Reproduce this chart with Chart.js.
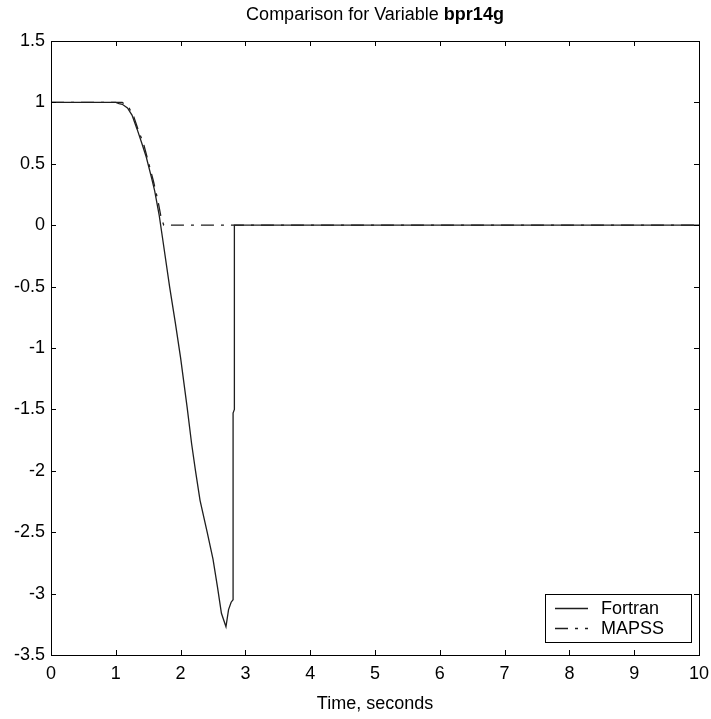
<!DOCTYPE html>
<html>
<head>
<meta charset="utf-8">
<title>Comparison for Variable bpr14g</title>
<script src="https://cdn.jsdelivr.net/npm/chart.js@4.4.1/dist/chart.umd.min.js"></script>
<style>
  html, body { margin: 0; padding: 0; background: #fff; }
  #wrap { width: 711px; height: 719px; }
</style>
</head>
<body>
<div id="wrap"><canvas id="chart" width="711" height="719"></canvas></div>
<script>
// values
const fortranT = [0, 0.5, 1.0, 1.05, 1.1, 1.18, 1.25, 1.33, 1.4, 1.47, 1.55, 1.6, 1.67, 1.72, 1.83, 1.92, 2.0, 2.1, 2.17, 2.23, 2.3, 2.41, 2.5, 2.57, 2.63, 2.7, 2.74, 2.78, 2.81, 2.81, 2.83, 2.83, 10];
const fortranY = [1, 1, 1, 0.99, 0.985, 0.955, 0.897, 0.78, 0.67, 0.555, 0.39, 0.28, 0.08, -0.1, -0.5, -0.8, -1.08, -1.48, -1.78, -2.0, -2.24, -2.5, -2.72, -2.95, -3.16, -3.27, -3.13, -3.07, -3.05, -1.53, -1.5, 0, 0];

const mapssT = [0, 1.1, 1.2, 1.28, 1.35, 1.43, 1.5, 1.58, 1.65, 1.7, 1.74, 10];
const mapssY = [1, 1, 0.96, 0.88, 0.77, 0.66, 0.52, 0.36, 0.2, 0.06, 0, 0];

const seriesNames = ['Fortran', 'MAPSS'];
const xTitle = 'Time, seconds';
const titleText = 'Comparison for Variable ';
const titleBold = 'bpr14g';

const FONT = "'Liberation Sans', Arial, Helvetica, sans-serif";
const INK = '#000';
const LINE = '#1e1e1e';
const DASHDOT = [13, 7, 3, 7];

function pts(xs, ys) {
    return xs.map((x, i) => ({ x: x, y: ys[i] }));
}

// frame, inward ticks, title, axis title and legend (MATLAB style)
const matlabLook = {
    id: 'matlabLook',
    afterDraw(chart) {
        const ctx = chart.ctx;
        const a = chart.chartArea;
        const xs = chart.scales.x;
        const ys = chart.scales.y;
        const tick = 5;

        ctx.save();
        ctx.strokeStyle = INK;
        ctx.lineWidth = 1;
        ctx.strokeRect(a.left + 0.5, a.top + 0.5, a.right - a.left, a.bottom - a.top);

        ctx.beginPath();
        xs.ticks.forEach(t => {
            const px = Math.round(xs.getPixelForValue(t.value)) + 0.5;
            ctx.moveTo(px, a.bottom); ctx.lineTo(px, a.bottom - tick);
            ctx.moveTo(px, a.top); ctx.lineTo(px, a.top + tick);
        });
        ys.ticks.forEach(t => {
            const py = Math.round(ys.getPixelForValue(t.value)) + 0.5;
            ctx.moveTo(a.left, py); ctx.lineTo(a.left + tick, py);
            ctx.moveTo(a.right, py); ctx.lineTo(a.right - tick, py);
        });
        ctx.stroke();

        // title, with the variable name in bold
        const cx = (a.left + a.right) / 2;
        ctx.fillStyle = INK;
        ctx.textBaseline = 'middle';
        ctx.font = '18px ' + FONT;
        const w1 = ctx.measureText(titleText).width;
        ctx.font = 'bold 18px ' + FONT;
        const w2 = ctx.measureText(titleBold).width;
        let tx = cx - (w1 + w2) / 2;
        ctx.textAlign = 'left';
        ctx.font = '18px ' + FONT;
        ctx.fillText(titleText, tx, 15);
        ctx.font = 'bold 18px ' + FONT;
        ctx.fillText(titleBold, tx + w1, 15);

        // x axis title
        ctx.font = '18px ' + FONT;
        ctx.textAlign = 'center';
        ctx.fillText(xTitle, cx, 704);

        // legend box in the lower right corner
        const bx = 545, by = 594, bw = 146, bh = 48;
        ctx.fillStyle = '#fff';
        ctx.fillRect(bx, by, bw, bh);
        ctx.strokeStyle = INK;
        ctx.strokeRect(bx + 0.5, by + 0.5, bw, bh);
        chart.data.datasets.forEach((ds, i) => {
            const ly = by + 14 + i * 20;
            ctx.strokeStyle = ds.borderColor;
            ctx.lineWidth = ds.borderWidth;
            ctx.setLineDash(ds.borderDash || []);
            ctx.beginPath();
            ctx.moveTo(bx + 10, ly + 0.5);
            ctx.lineTo(bx + 43, ly + 0.5);
            ctx.stroke();
            ctx.setLineDash([]);
            ctx.fillStyle = INK;
            ctx.textAlign = 'left';
            ctx.font = '18px ' + FONT;
            ctx.fillText(ds.label, bx + 56, ly + 1);
        });
        ctx.restore();
    }
};

new Chart(document.getElementById('chart'), {
    type: 'line',
    data: {
        datasets: [
            {
                label: seriesNames[0],
                data: pts(fortranT, fortranY),
                borderColor: LINE,
                borderWidth: 1.3,
                pointRadius: 0,
                tension: 0,
                fill: false
            },
            {
                label: seriesNames[1],
                data: pts(mapssT, mapssY),
                borderColor: LINE,
                borderWidth: 1.3,
                borderDash: DASHDOT,
                pointRadius: 0,
                tension: 0,
                fill: false
            }
        ]
    },
    options: {
        responsive: false,
        animation: false,
        layout: { padding: { top: 41, right: 12, bottom: 0, left: 0 } },
        plugins: {
            legend: { display: false },
            title: { display: false },
            tooltip: { enabled: false }
        },
        scales: {
            x: {
                type: 'linear',
                min: 0,
                max: 10,
                afterFit(s) {
                    s.height = 719 - 655;
                    s.paddingLeft = 0;
                    s.paddingRight = 0;
                },
                ticks: { stepSize: 1, color: INK, padding: 8, font: { family: FONT, size: 18 } },
                grid: { display: false, drawTicks: false },
                border: { display: false }
            },
            y: {
                min: -3.5,
                max: 1.5,
                afterFit(s) {
                    s.width = 51;
                    s.paddingTop = 0;
                    s.paddingBottom = 0;
                },
                ticks: {
                    stepSize: 0.5,
                    color: INK,
                    padding: 6,
                    font: { family: FONT, size: 18 },
                    callback: v => String(Math.round(v * 10) / 10)
                },
                grid: { display: false, drawTicks: false },
                border: { display: false }
            }
        }
    },
    plugins: [matlabLook]
});
</script>
</body>
</html>
